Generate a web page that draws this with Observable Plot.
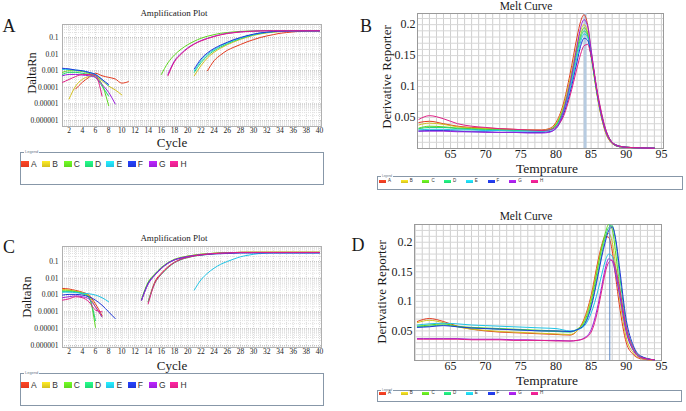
<!DOCTYPE html>
<html>
<head>
<meta charset="utf-8">
<script src="https://cdn.jsdelivr.net/npm/d3@7"></script>
<script src="https://cdn.jsdelivr.net/npm/@observablehq/plot@0.6"></script>
<style>
html,body{margin:0;padding:0;background:#fff;}
#fig{position:relative;width:686px;height:411px;overflow:hidden;background:#fff;font-family:"Liberation Serif","Times New Roman",serif;color:#1a1a1a;}
#fig svg{position:absolute;overflow:visible;}
#fig svg text{font-family:"Liberation Serif","Times New Roman",serif;}
.t{position:absolute;white-space:nowrap;transform:translate(-50%,-50%);line-height:1;}
.r{transform:translate(-50%,-50%) rotate(-90deg);}
.box{position:absolute;box-sizing:border-box;border:1px solid #8797a8;background:#fff;}
.lgtitle{position:absolute;font-family:"Liberation Sans",Arial,sans-serif;color:#6a7a8a;background:#fff;line-height:1;padding:0 1px;}
.sw{position:absolute;}
.lt{position:absolute;font-family:"Liberation Sans",Arial,sans-serif;color:#333;line-height:1;}
</style>
</head>
<body>
<div id="fig"></div>
<script>
// ---------- series ----------
const seriesNames = ["A","B","C","D","E","F","G","H"];
const seriesColors = ["#e2391f","#d2bf1e","#5ed61f","#1fd672","#1fc4e6","#1f36d8","#9a1fdc","#e01f86"];

// ---------- amplification plots (cycle 1..40) ----------
const cycles = [1,2,3,4,5,6,7,8,9,10,11,12,13,14,15,16,17,18,19,20,21,22,23,24,25,26,27,28,29,30,31,32,33,34,35,36,37,38,39,40];
const ampYTicks = [0.1, 0.01, 0.001, 0.0001, 0.00001, 0.000001];
const ampYTickLabels = ["0.1","0.01","0.001","0.0001","0.00001","0.000001"];
const ampXTicks = [2,4,6,8,10,12,14,16,18,20,22,24,26,28,30,32,34,36,38,40];

const ampA_A = [null,null,8e-5,2e-4,4e-4,7e-4,5e-4,4e-4,3.2e-4,1.8e-4,2.2e-4,null,null,null,null,null,null,null,null,null,null,null,0.001,0.004,0.009,0.017,0.026,0.038,0.055,0.075,0.1,0.125,0.15,0.18,0.2,0.22,0.235,0.245,0.25,0.25];
const ampA_B = [null,2e-5,1.2e-4,3e-4,4.5e-4,5e-4,2.5e-4,1.2e-4,7e-5,3.5e-5,null,null,null,null,null,null,null,null,null,null,0.0005,0.002,0.006,0.013,0.023,0.037,0.055,0.078,0.105,0.135,0.165,0.19,0.21,0.23,0.245,0.255,0.26,0.26,0.26,0.26];
const ampA_C = [8e-4,1e-3,1e-3,9e-4,7e-4,5e-4,1.5e-4,8e-6,null,null,null,null,null,null,null,0.0006,0.003,0.009,0.02,0.037,0.06,0.09,0.12,0.15,0.18,0.2,0.22,0.235,0.245,0.25,0.255,0.26,0.26,0.26,0.26,0.26,0.26,0.26,0.26,0.26];
const ampA_D = [6e-4,8e-4,8e-4,7e-4,6e-4,4e-4,1.2e-4,3e-5,null,null,null,null,null,null,null,null,null,null,null,null,0.0008,0.003,0.008,0.016,0.027,0.042,0.062,0.085,0.115,0.145,0.175,0.2,0.22,0.235,0.245,0.25,0.255,0.255,0.255,0.255];
const ampA_E = [1.2e-3,1.2e-3,1.1e-3,1e-3,8e-4,6e-4,3e-4,1.2e-4,null,null,null,null,null,null,null,null,null,null,null,null,0.001,0.004,0.01,0.019,0.032,0.048,0.07,0.095,0.125,0.155,0.185,0.21,0.23,0.245,0.25,0.255,0.255,0.255,0.255,0.255];
const ampA_F = [1.4e-3,1.3e-3,1.1e-3,1e-3,8e-4,6e-4,3e-4,1.5e-4,null,null,null,null,null,null,null,null,null,null,null,null,0.0013,0.005,0.012,0.022,0.035,0.052,0.075,0.1,0.13,0.16,0.19,0.21,0.23,0.24,0.245,0.25,0.25,0.25,0.25,0.25];
const ampA_G = [5e-4,6e-4,6e-4,5.5e-4,5e-4,4e-4,1.5e-4,5e-5,1e-5,null,null,null,null,null,null,null,0.0006,0.004,0.011,0.024,0.042,0.065,0.09,0.12,0.15,0.18,0.2,0.22,0.235,0.245,0.25,0.255,0.255,0.255,0.255,0.255,0.255,0.255,0.255,0.255];
const ampA_H = [2e-4,3e-4,4.5e-4,6e-4,6e-4,5e-4,3e-5,null,null,null,null,null,null,null,null,null,0.0005,0.0035,0.01,0.022,0.04,0.062,0.087,0.115,0.145,0.175,0.195,0.215,0.23,0.24,0.25,0.255,0.255,0.255,0.255,0.255,0.255,0.255,0.255,0.255];

const ampC_A = [2.5e-3,2.3e-3,1.9e-3,1.5e-3,1e-3,3e-4,6e-5,null,null,null,null,null,null,0.0004,0.006,0.02,0.048,0.09,0.14,0.18,0.22,0.25,0.28,0.3,0.32,0.33,0.34,0.35,0.35,0.35,0.35,0.35,0.35,0.35,0.35,0.35,0.35,0.35,0.35,0.35];
const ampC_B = [2.2e-3,2e-3,1.7e-3,1.4e-3,9e-4,2e-4,5e-5,null,null,null,null,null,0.0005,0.005,0.016,0.04,0.08,0.13,0.17,0.21,0.24,0.27,0.29,0.31,0.32,0.33,0.34,0.35,0.36,0.36,0.36,0.36,0.36,0.36,0.36,0.36,0.36,0.36,0.36,0.36];
const ampC_C = [1.8e-3,1.8e-3,1.6e-3,1.3e-3,8e-4,1.2e-5,null,null,null,null,null,null,0.0006,0.006,0.018,0.044,0.085,0.135,0.175,0.21,0.24,0.27,0.29,0.31,0.32,0.33,0.34,0.35,0.35,0.35,0.35,0.35,0.35,0.35,0.35,0.35,0.35,0.35,0.35,0.35];
const ampC_D = [1.6e-3,1.6e-3,1.5e-3,1.2e-3,7e-4,3e-5,null,null,null,null,null,null,null,0.0004,0.005,0.017,0.042,0.085,0.13,0.17,0.21,0.24,0.27,0.29,0.31,0.32,0.33,0.34,0.34,0.34,0.34,0.34,0.34,0.34,0.34,0.34,0.34,0.34,0.34,0.34];
const ampC_E = [1.5e-3,1.5e-3,1.4e-3,1.3e-3,1.2e-3,1e-3,7e-4,4e-4,null,null,null,null,null,null,null,null,null,null,null,null,0.002,0.008,0.02,0.04,0.068,0.1,0.14,0.19,0.23,0.27,0.3,0.32,0.33,0.33,0.33,0.33,0.33,0.33,0.33,0.33];
const ampC_F = [1e-3,1.1e-3,1.1e-3,1e-3,8e-4,5e-4,2.5e-4,1e-4,4e-5,null,null,null,0.0005,0.005,0.016,0.04,0.08,0.125,0.16,0.19,0.22,0.24,0.26,0.28,0.29,0.3,0.31,0.32,0.32,0.32,0.32,0.32,0.32,0.32,0.32,0.32,0.32,0.32,0.32,0.32];
const ampC_G = [7e-4,8e-4,9e-4,8e-4,6e-4,2e-4,5e-5,null,null,null,null,null,0.0005,0.0045,0.015,0.038,0.078,0.125,0.165,0.2,0.23,0.26,0.28,0.3,0.31,0.32,0.33,0.34,0.34,0.34,0.34,0.34,0.34,0.34,0.34,0.34,0.34,0.34,0.34,0.34];
const ampC_H = [5e-4,6e-4,8e-4,7e-4,4e-4,1.3e-4,1e-4,null,null,null,null,null,null,0.0003,0.005,0.018,0.045,0.088,0.135,0.175,0.215,0.245,0.275,0.295,0.315,0.325,0.335,0.345,0.345,0.345,0.345,0.345,0.345,0.345,0.345,0.345,0.345,0.345,0.345,0.345];

// ---------- melt curves ----------
const meltYTicks = [0.05, 0.1, 0.15, 0.2];
const meltYTickLabels = ["0.05","0.1","0.15","0.2"];
const meltXTicks = [65,70,75,80,85,90,95];

const meltB_T = [60.5,62,64,66,68,70,72,74,76,78,79,80,81,82,83,83.5,84,84.5,85,86,87,88,89,90,92,94];
const meltB_A = [0.042,0.044,0.04,0.036,0.034,0.033,0.032,0.031,0.03,0.03,0.032,0.042,0.07,0.12,0.18,0.205,0.216,0.2,0.158,0.078,0.028,0.008,0.003,0.002,0.001,0.0005];
const meltB_B = [0.038,0.041,0.039,0.035,0.033,0.032,0.031,0.03,0.03,0.029,0.031,0.04,0.066,0.112,0.168,0.19,0.2,0.188,0.15,0.076,0.028,0.008,0.003,0.002,0.001,0.0005];
const meltB_C = [0.033,0.036,0.035,0.033,0.032,0.031,0.03,0.03,0.029,0.029,0.03,0.038,0.062,0.105,0.16,0.183,0.195,0.185,0.15,0.078,0.03,0.009,0.003,0.002,0.001,0.0005];
const meltB_D = [0.032,0.034,0.034,0.032,0.031,0.03,0.03,0.029,0.029,0.028,0.03,0.037,0.06,0.1,0.155,0.178,0.19,0.182,0.15,0.08,0.031,0.009,0.003,0.002,0.001,0.0005];
const meltB_E = [0.03,0.031,0.031,0.03,0.03,0.029,0.029,0.028,0.028,0.028,0.029,0.035,0.057,0.096,0.148,0.172,0.185,0.18,0.152,0.082,0.032,0.01,0.004,0.002,0.001,0.0005];
const meltB_F = [0.028,0.029,0.029,0.028,0.027,0.027,0.026,0.026,0.026,0.026,0.027,0.032,0.053,0.09,0.14,0.165,0.178,0.175,0.15,0.082,0.033,0.01,0.004,0.002,0.001,0.0005];
const meltB_G = [0.028,0.028,0.028,0.027,0.027,0.026,0.026,0.026,0.025,0.025,0.026,0.033,0.058,0.105,0.165,0.195,0.208,0.198,0.16,0.08,0.03,0.009,0.003,0.002,0.001,0.0005];
const meltB_H = [0.047,0.053,0.048,0.04,0.036,0.034,0.032,0.031,0.03,0.029,0.03,0.035,0.05,0.085,0.13,0.152,0.166,0.168,0.15,0.085,0.034,0.01,0.004,0.002,0.001,0.0005];
const meltB_peakT = [84.15];

const meltD_T = [60.3,62,64,66,68,70,72,74,76,78,80,82,83,84,85,86,86.5,87,87.5,88,88.5,89,90,91,92,94];
const meltD_A = [0.066,0.071,0.066,0.058,0.053,0.05,0.048,0.047,0.046,0.045,0.044,0.043,0.05,0.07,0.11,0.17,0.195,0.21,0.208,0.185,0.14,0.095,0.03,0.01,0.003,0.0005];
const meltD_B = [0.064,0.068,0.064,0.057,0.053,0.051,0.049,0.048,0.047,0.046,0.045,0.044,0.05,0.068,0.106,0.165,0.192,0.21,0.215,0.2,0.158,0.11,0.038,0.013,0.004,0.0005];
const meltD_C = [0.058,0.06,0.062,0.058,0.056,0.055,0.054,0.053,0.052,0.051,0.05,0.049,0.053,0.065,0.1,0.16,0.19,0.215,0.23,0.222,0.18,0.13,0.05,0.018,0.006,0.001];
const meltD_D = [0.057,0.058,0.06,0.057,0.055,0.054,0.053,0.052,0.051,0.05,0.049,0.048,0.052,0.062,0.094,0.15,0.18,0.207,0.225,0.228,0.2,0.15,0.06,0.022,0.007,0.001];
const meltD_E = [0.06,0.062,0.063,0.062,0.06,0.059,0.058,0.057,0.056,0.055,0.054,0.05,0.052,0.058,0.08,0.12,0.145,0.168,0.18,0.176,0.15,0.115,0.05,0.018,0.006,0.001];
const meltD_F = [0.056,0.057,0.059,0.057,0.055,0.054,0.053,0.052,0.051,0.05,0.05,0.049,0.052,0.06,0.09,0.145,0.175,0.2,0.22,0.226,0.205,0.16,0.068,0.025,0.008,0.001];
const meltD_G = [0.037,0.037,0.037,0.037,0.036,0.036,0.036,0.035,0.035,0.034,0.034,0.033,0.034,0.038,0.052,0.095,0.125,0.155,0.172,0.168,0.145,0.115,0.048,0.017,0.005,0.001];
const meltD_H = [0.036,0.036,0.036,0.036,0.035,0.035,0.035,0.034,0.034,0.034,0.033,0.033,0.034,0.037,0.048,0.088,0.118,0.148,0.166,0.17,0.155,0.125,0.055,0.02,0.006,0.001];
const meltD_peakT = [87.65];

// ---------- helpers ----------
const fig = document.getElementById("fig");
const SERIF = "'Liberation Serif', 'Times New Roman', serif";

function toRows(xs, arrays) {
  const rows = [];
  seriesNames.forEach((s, i) => arrays[i].forEach((v, j) => rows.push({x: xs[j], y: v, s})));
  return rows;
}

function put(el, left, top) {
  el.style.left = left + "px";
  el.style.top = top + "px";
  fig.appendChild(el);
}

function txt(s, x, y, size, rot) {
  const d = document.createElement("div");
  d.className = "t" + (rot ? " r" : "");
  d.textContent = s;
  d.style.fontSize = size + "px";
  put(d, x, y);
}

function ampPlot(rows, yDomain, mt, mb) {
  const minor = d3.scaleLog().domain([1e-7, 1]).ticks().filter(v => v >= yDomain[0] && v <= yDomain[1]);
  return Plot.plot({
    width: 330, height: 150,
    marginLeft: 62, marginRight: 9, marginTop: mt, marginBottom: mb,
    style: `font-family: ${SERIF}; font-size: 7.5px; color: #222; background: transparent;`,
    x: {domain: [1, 40.3], label: null},
    y: {type: "log", domain: yDomain, label: null},
    color: {domain: seriesNames, range: seriesColors},
    marks: [
      Plot.gridX(cycles, {stroke: "#dadada", strokeOpacity: 1, strokeDasharray: "1,1"}),
      Plot.gridY(minor, {stroke: "#e0e0e0", strokeOpacity: 1, strokeDasharray: "1,1"}),
      Plot.gridY(ampYTicks, {stroke: "#c4c4c4", strokeOpacity: 1, strokeDasharray: "1,1"}),
      Plot.frame({stroke: "#b0b0b0"}),
      Plot.axisY(ampYTicks, {tickSize: 0, tickPadding: 4, fontFamily: SERIF, fontSize: 7.5, tickFormat: d => ampYTickLabels[ampYTicks.indexOf(d)]}),
      Plot.axisX(ampXTicks, {tickSize: 0, tickPadding: 1, fontFamily: SERIF, fontSize: 7.5}),
      Plot.line(rows, {x: "x", y: "y", z: "s", stroke: "s", strokeWidth: 1, curve: "monotone-x"})
    ]
  });
}

function meltPlot(rows, xDomain, yDomain, height, ml, mr, peakT, peakStroke, peakWidth, peakOnTop) {
  const gx = d3.range(Math.ceil(xDomain[0]), Math.floor(xDomain[1]) + 1);
  const gy = d3.range(0.01, yDomain[1], 0.01);
  const peak = Plot.ruleX(peakT, {stroke: peakStroke, strokeWidth: peakWidth});
  const line = Plot.line(rows, {x: "x", y: "y", z: "s", stroke: "s", strokeWidth: 1, curve: "monotone-x"});
  return Plot.plot({
    width: 330, height,
    marginLeft: ml, marginRight: mr, marginTop: 13, marginBottom: 30,
    style: `font-family: ${SERIF}; font-size: 12px; color: #222; background: transparent;`,
    x: {domain: xDomain, label: null},
    y: {domain: yDomain, label: null},
    color: {domain: seriesNames, range: seriesColors},
    marks: [
      Plot.gridX(gx, {stroke: "#cfcfcf", strokeOpacity: 1}),
      Plot.gridY(gy, {stroke: "#d6d6d6", strokeOpacity: 1}),
      Plot.frame({stroke: "#9a9a9a"}),
      Plot.axisY(meltYTicks, {tickSize: 0, tickPadding: 2, fontFamily: SERIF, fontSize: 12, tickFormat: d => meltYTickLabels[meltYTicks.indexOf(d)]}),
      Plot.axisX(meltXTicks, {tickSize: 0, tickPadding: 1, fontFamily: SERIF, fontSize: 12}),
      ...(peakOnTop ? [line, peak] : [peak, line])
    ]
  });
}

function legend(left, top, w, h, titleSize, swX, swY, step, swW, swH, fs) {
  const b = document.createElement("div");
  b.className = "box";
  b.style.width = w + "px"; b.style.height = h + "px";
  put(b, left, top);
  const lt = document.createElement("div");
  lt.className = "lgtitle";
  lt.textContent = "Legend";
  lt.style.fontSize = titleSize + "px";
  put(lt, left + 4, top - titleSize / 2);
  seriesNames.forEach((s, i) => {
    const sw = document.createElement("div");
    sw.className = "sw";
    sw.style.width = swW + "px"; sw.style.height = swH + "px";
    sw.style.background = `linear-gradient(${d3.color(seriesColors[i]).brighter(0.6)}, ${seriesColors[i]})`;
    put(sw, swX + i * step, swY);
    const l = document.createElement("div");
    l.className = "lt";
    l.textContent = s;
    l.style.fontSize = fs + "px";
    put(l, swX + i * step + swW + 2, swY + swH / 2 - fs * 0.5);
  });
}

// ---------- panel A ----------
const pA = ampPlot(toRows(cycles, [ampA_A, ampA_B, ampA_C, ampA_D, ampA_E, ampA_F, ampA_G, ampA_H]), [4.4e-7, 0.61], 24, 24);
put(pA, 0, 0);
txt("A", 9, 26, 18);
txt("Amplification Plot", 174, 13, 9);
txt("DaltaRn", 32, 73, 12.5, true);
txt("Cycle", 172, 141.5, 13);
legend(20, 152, 304, 33, 4, 21, 161, 21.35, 8, 6, 8.5);

// ---------- panel C ----------
const pC = ampPlot(toRows(cycles, [ampC_A, ampC_B, ampC_C, ampC_D, ampC_E, ampC_F, ampC_G, ampC_H]), [7.6e-7, 0.78], 24, 25);
put(pC, 0, 222);
txt("C", 9, 247, 18);
txt("Amplification Plot", 174, 238, 9);
txt("DaltaRn", 27, 297, 12.5, true);
txt("Cycle", 172, 364.5, 13);
legend(20, 373, 304, 33, 4, 21, 382, 21.35, 8, 6, 8.5);

// ---------- panel B ----------
const pB = meltPlot(toRows(meltB_T, [meltB_A, meltB_B, meltB_C, meltB_D, meltB_E, meltB_F, meltB_G, meltB_H]), [60.3, 95.3], [0, 0.218], 178, 77, 7, meltB_peakT, "#b7cbe0", 3, false);
put(pB, 340, 0);
txt("B", 366, 26, 18);
txt("Melt Curve", 526, 7, 11.5);
txt("Derivative Reporter", 386, 77, 13, true);
txt("Temprature", 547, 168.5, 13.5);
legend(377, 176, 306, 14, 3, 379, 180, 21.7, 7, 3, 4.5);

// ---------- panel D ----------
const pD = meltPlot(toRows(meltD_T, [meltD_A, meltD_B, meltD_C, meltD_D, meltD_E, meltD_F, meltD_G, meltD_H]), [59.9, 95], [0, 0.23], 179, 74, 9, meltD_peakT, "#5b86c4", 1, true);
put(pD, 340, 211);
txt("D", 358, 245, 18);
txt("Melt Curve", 526, 217, 11.5);
txt("Derivative Reporter", 381, 292, 13, true);
txt("Temprature", 547, 380.5, 13.5);
legend(377, 390, 305, 12, 3, 379, 392, 21.7, 7, 3, 4.5);
</script>
</body>
</html>
